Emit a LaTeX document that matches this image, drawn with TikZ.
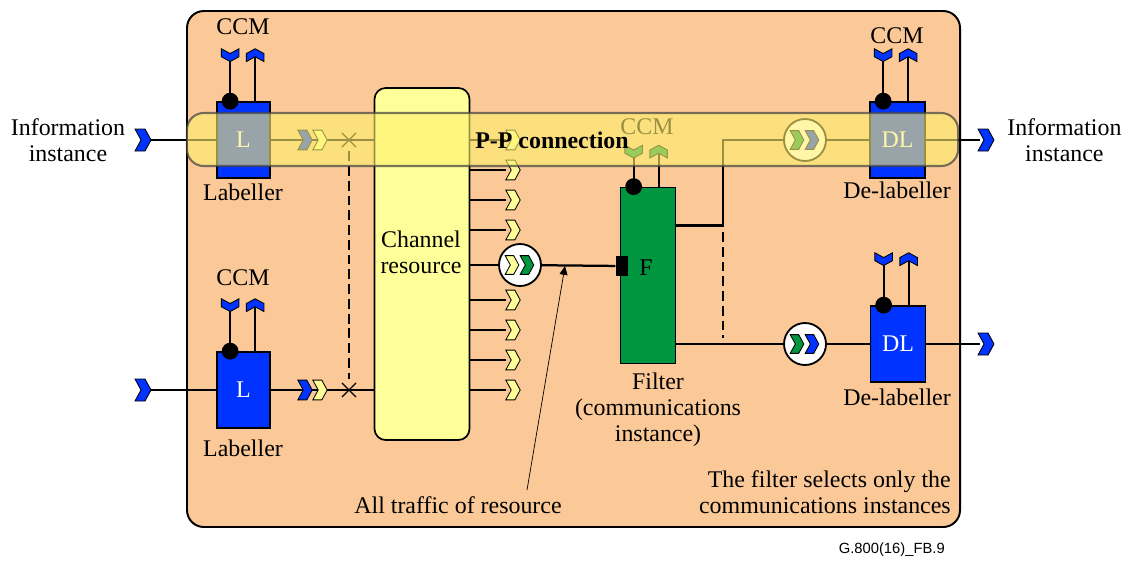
\documentclass[tikz,border=0pt]{standalone}
\usepackage{fontspec}
\setmainfont{Liberation Serif}
\newfontfamily\figsans{Liberation Sans}
\usetikzlibrary{shapes.misc,arrows.meta,calc}

\definecolor{peach}{RGB}{251,201,152}
\definecolor{chanyellow}{RGB}{255,255,153}
\definecolor{labblue}{RGB}{0,51,255}
\definecolor{filtgreen}{RGB}{0,150,64}
\definecolor{bandyellow}{RGB}{255,240,110}

% CCM sink/source pair on top of a box: box, stem length, chevron colour
\newcommand{\ccmpair}[3]{%
  \draw[wire] ($(#1.north west)+(14,0)$) -- ++(0,-#2) pic[rotate=-90, scale=0.8]{chev=#3};
  \draw[wire] ($(#1.north west)+(39,0)$) -- ++(0,-#2) pic[rotate=90, scale=0.8]{chev=#3};
  \node[dot] at ($(#1.north west)+(14,0)$) {};
}

\begin{document}
\begin{tikzpicture}[
    x=0.025cm, y=-0.025cm,
    font=\fontsize{17}{18.5}\selectfont,
    wire/.style={line width=1.6pt},
    dashwire/.style={line width=1.7pt, dash pattern=on 7pt off 3.5pt},
    labbox/.style={draw=black, line width=1.2pt, fill=labblue, minimum width=1.325cm, minimum height=1.9cm, inner sep=0pt, text=white},
    filtbox/.style={draw=black, line width=1.2pt, fill=filtgreen, minimum width=1.375cm, minimum height=4.4cm, inner sep=0pt},
    chanbox/.style={draw=black, line width=1.2pt, fill=chanyellow, rounded corners=8pt, minimum width=2.375cm, minimum height=8.8cm},
    merge/.style={circle, draw=black, line width=1.3pt, fill=white, minimum size=1.05cm, inner sep=0pt},
    xmark/.style={cross out, draw=black, line width=0.9pt, minimum size=0.32cm, inner sep=0pt},
    dot/.style={circle, fill=black, minimum size=0.42cm, inner sep=0pt},
    lbl/.style={align=center, inner sep=0pt},
    pics/chev/.style={code={\filldraw[fill=#1, draw=black, line width=0.6pt] (-8,-11) -- (2,-11) -- (8,0) -- (2,11) -- (-8,11) -- (-2,0) -- cycle;}}
]
    \useasboundingbox (0,0) rectangle (1128,560);

    % Cadre
    \draw[line width=1.4pt, fill=peach, rounded corners=12pt] (187,11) rectangle (960,527);

    % Blocs
    \node[labbox] (L1) at (243.5,140) {L};
    \node[labbox] (L2) at (243.5,390) {L};
    \node[chanbox] (chan) at (422,264) {};
    \node[lbl] (chantxt) at (421,252) {Channel\\resource};
    \node[filtbox] (filt) at (648,275.5) {};
    \node[inner sep=0pt] (ftxt) at (646,268) {F};
    \node[fill=black, minimum width=0.32cm, minimum height=0.48cm, inner sep=0pt] (fsq) at (622,266) {};
    \node[labbox, minimum width=1.375cm] (DL1) at (897.5,140) {DL};
    \node[labbox, minimum width=1.375cm] (DL2) at (898,344) {DL};

    \node[merge] (cA) at (520,265) {};
    \node[merge] (cB) at (805,140) {};
    \node[merge] (cC) at (805,344) {};

    \node[xmark] (x1) at (349,140) {};
    \node[xmark] (x2) at (349,390) {};

    \coordinate (in1) at (151,140);
    \coordinate (in2) at (151,390);
    \coordinate (out1) at (980,140);
    \coordinate (out2) at (980,344);
    \coordinate (bend) at (723,140);
    \coordinate (d1) at (723,232);
    \coordinate (d2) at (723,338);

    % Entrees
    \draw[wire] (in1) -- (L1);
    \draw[wire] (in2) -- (L2);
    \pic at (143,140) {chev=labblue};
    \pic at (143,390) {chev=labblue};
    \draw[wire] (L1) -- (chan.west |- L1);
    \draw[wire] (L2) -- (chan.west |- L2);
    \pic[scale=0.9] at (305,140) {chev=labblue};
    \pic[scale=0.9] at (320,140) {chev=chanyellow};
    \pic[scale=0.9] at (305,390) {chev=labblue};
    \pic[scale=0.9] at (320,390) {chev=chanyellow};
    \draw[dashwire, shorten <=3pt, shorten >=3pt] (x1) -- (x2);

    % Sorties de la ressource
    \foreach \y in {140,170,200,230,300,330,360,390}
        \draw[wire] (chan.east |- 0,\y) -- (506,\y) pic[scale=0.9] at (513,\y) {chev=chanyellow};
    \draw[wire] (chan.east |- cA) -- (cA);
    \pic[scale=0.85] at (512,265) {chev=chanyellow};
    \pic[scale=0.85] at (527,265) {chev=filtgreen};
    \draw[wire] (cA) -- (fsq);

    % Filtre vers de-labellers
    \draw[wire] ($(filt.east)+(0,-50)$) -| (bend) -- (cB);
    \draw[wire] (filt.east |- cC) -- (cC);
    \draw[dashwire] (d1) -- (d2);
    \pic[scale=0.85] at (797,140) {chev=filtgreen};
    \pic[scale=0.85] at (812,140) {chev=labblue};
    \pic[scale=0.85] at (797,344) {chev=filtgreen};
    \pic[scale=0.85] at (812,344) {chev=labblue};
    \draw[wire] (cB) -- (DL1);
    \draw[wire] (cC) -- (DL2);
    \draw[wire] (DL1) -- (out1);
    \draw[wire] (DL2) -- (out2);
    \pic at (986,140) {chev=labblue};
    \pic at (986,344) {chev=labblue};

    % CCM
    \ccmpair{L1}{46}{labblue}
    \ccmpair{L2}{46}{labblue}
    \ccmpair{DL1}{46}{labblue}
    \ccmpair{DL2}{46}{labblue}
    \ccmpair{filt}{35}{filtgreen}
    \node[lbl] (ccmL1) at (243,27) {CCM};
    \node[lbl] (ccmL2) at (243,278) {CCM};
    \node[lbl] (ccmF) at (647,127) {CCM};
    \node[lbl] (ccmDL1) at (897,36) {CCM};

    % Textes
    \node[lbl] (labL1) at (243,192) {Labeller};
    \node[lbl] (labL2) at (243,448) {Labeller};
    \node[lbl] (labDL1) at (897,190) {De-labeller};
    \node[lbl] (labDL2) at (897,397) {De-labeller};
    \node[lbl] (labF) at (658,410) {Filter\\(communications\\instance)};
    \node[lbl] (infoin) at (68,140) {Information\\instance};
    \node[lbl, anchor=west] (infoout) at (1007,140) {Information\\instance};
    \node[lbl] (traffic) at (458,505) {All traffic of resource};
    \node[lbl, align=right, anchor=east] (note) at (951,492) {The filter selects only the\\communications instances};
    \node[lbl, anchor=east, font=\figsans\fontsize{10.5}{12}\selectfont] (fig) at (945,550) {G.800(16)\_FB.9};

    \coordinate (tap) at (565,266);
    \draw[line width=0.5pt, -{Triangle[length=2.2mm, width=2mm]}] (527,490) -- (tap);

    % Connexion P-P (calque transparent)
    \node[draw=black!75, draw opacity=0.7, line width=1.5pt, fill=bandyellow, fill opacity=0.6, rounded corners=12pt, minimum width=19.275cm, minimum height=1.325cm] (pp) at (572.5,139.5) {};
    \node[lbl, font=\fontsize{17}{18.5}\selectfont\bfseries] (pptxt) at (552,140) {P-P connection};
\end{tikzpicture}
\end{document}
